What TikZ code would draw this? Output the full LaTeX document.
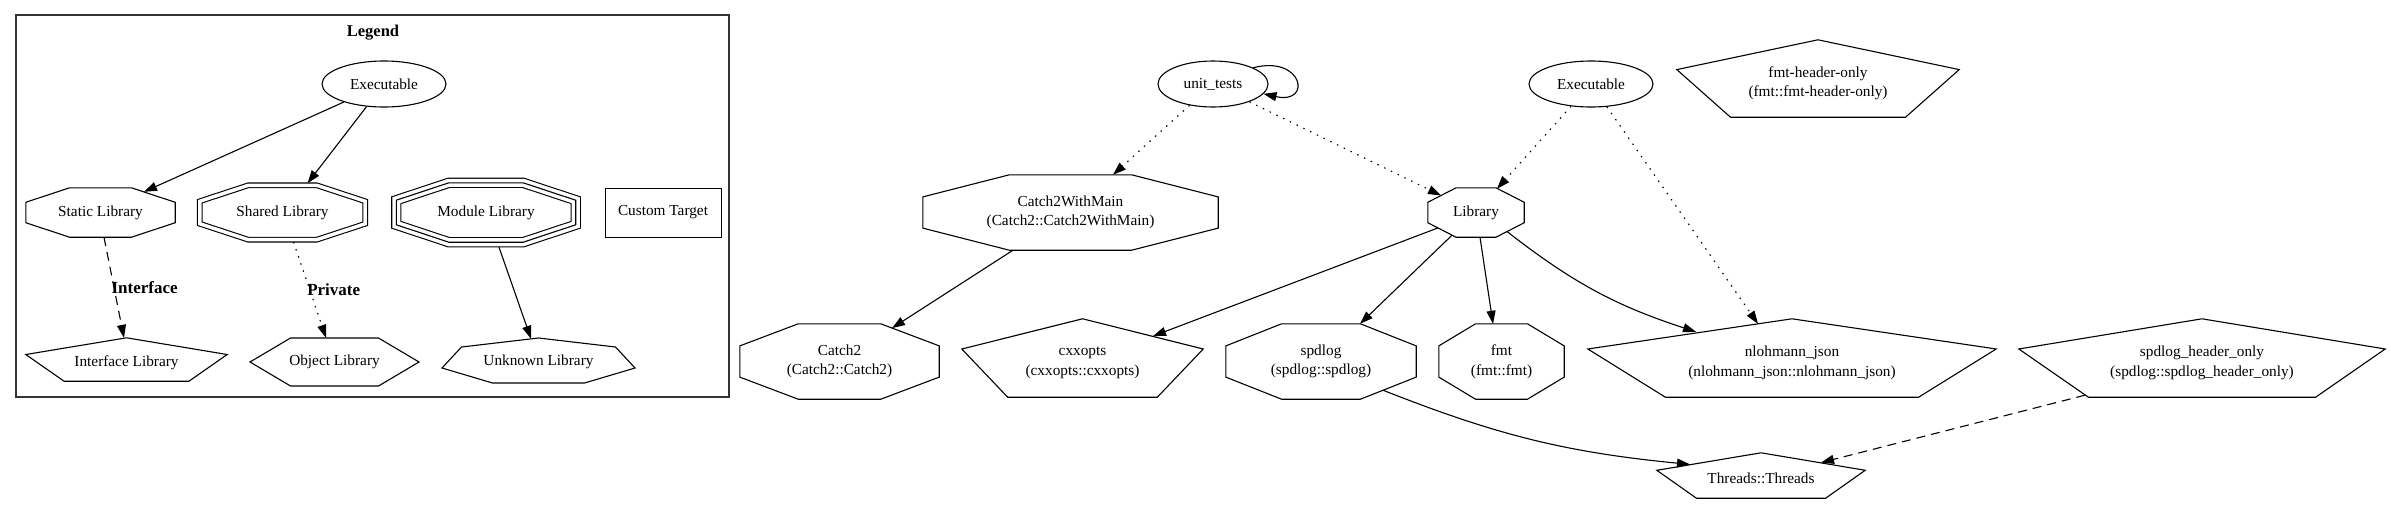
\documentclass[tikz,border=0pt]{standalone}
\usepackage{fontspec}
\setmainfont{Liberation Serif}
\usetikzlibrary{shapes.geometric,arrows.meta,calc}

% outlines are drawn round the (invisible) text nodes
\newcommand{\octagonline}[2][]{%
  \draw[line width=1.1pt,#1] ($(#2.north west)!0.293!(#2.north east)$) -- ($(#2.north east)!0.293!(#2.north west)$)
    -- ($(#2.north east)!0.293!(#2.south east)$) -- ($(#2.south east)!0.293!(#2.north east)$)
    -- ($(#2.south east)!0.293!(#2.south west)$) -- ($(#2.south west)!0.293!(#2.south east)$)
    -- ($(#2.south west)!0.293!(#2.north west)$) -- ($(#2.north west)!0.293!(#2.south west)$) -- cycle;}
% #1 = how far the outline sits above the text node
\newcommand{\pentagonline}[2][0]{%
  \draw[line width=1.1pt] ($(#2.north)+(0,-#1)$) -- ($(#2.north east)!0.385!(#2.south east)+(0,-#1)$)
    -- ($(#2.south east)!0.19!(#2.south west)+(0,-#1)$) -- ($(#2.south west)!0.19!(#2.south east)+(0,-#1)$)
    -- ($(#2.north west)!0.385!(#2.south west)+(0,-#1)$) -- cycle;}

\begin{document}
\begin{tikzpicture}[x=1pt,y=-1pt,
    every node/.style={font=\fontsize{15.3}{19.5}\selectfont, inner sep=0pt, align=center},
    ellnode/.style 2 args={ellipse, draw, line width=1.1pt, minimum width=#1pt, minimum height=#2pt},
    tgt/.style 2 args={minimum width=#1pt, minimum height=#2pt},
    dep/.style={line width=1.1pt, -{Triangle[length=13pt,width=9pt]}},
    dotdep/.style={dep, dash pattern=on 1.5pt off 6pt},
    dashdep/.style={dep, dash pattern=on 9pt off 6pt},
    lbl/.style={font=\fontsize{17}{20}\selectfont\bfseries, anchor=west, xshift=-3pt}]
  \fill[white] (0,0) rectangle (2391,507);
  \useasboundingbox (0,0) rectangle (2391,507);

  % legend
  \draw[line width=1.3pt, black!80] (16,15) rectangle (729,397);
  \node[font=\fontsize{16.5}{20}\selectfont\bfseries] (legend) at (373,33) {Legend};
  \node[ellnode={124}{46}] (legexe) at (384,84) {Executable};
  \node[tgt={149}{49}] (static) at (100.5,212.5) {Static Library};
  \node[tgt={165}{54}] (shared) at (282.5,212.5) {Shared Library};
  \node[tgt={179}{59}] (modlib) at (486,212.5) {Module Library};
  \node[tgt={116}{49}, draw, line width=1pt] (custom) at (663,212.5) {Custom Target};
  \node[tgt={201}{43}] (iface) at (126.5,363) {Interface Library};
  \node[tgt={169}{48}] (objlib) at (334.5,362) {Object Library};
  \node[tgt={193}{45}] (unknown) at (538.5,361.5) {Unknown Library};

  \octagonline{static}
  \octagonline[double, double distance=3.5pt]{shared}
  \octagonline[line width=10.3pt]{modlib}
  \octagonline[white, line width=8.1pt]{modlib}
  \octagonline{modlib}
  \pentagonline[3.5]{iface}
  \draw[line width=1.1pt, shift={(objlib.center)}] (-44,-24) -- (44,-24) -- (84.5,0) -- (44,24)
    -- (-44,24) -- (-84.5,0) -- cycle;
  \draw[line width=1.1pt, shift={(unknown.center)}] (0,-23.5) -- (77,-14.5) -- (96.5,6.5) -- (46,21.5)
    -- (-46,21.5) -- (-96.5,6.5) -- (-77,-14.5) -- cycle;

  \draw[dep] (legexe) -- ([xshift=43.5pt,yshift=-4pt]static.north);
  \draw[dep] (legexe) -- ([xshift=25pt,yshift=2pt]shared.north);
  \draw[dashdep] ([xshift=3.5pt]static.south) -- node[lbl] (lbliface) {Interface} ([xshift=-2.5pt,yshift=3.5pt]iface.north);
  \draw[dotdep] ([xshift=11pt,yshift=-2.3pt]shared.south) -- node[lbl] (lblpriv) {Private} ([xshift=-8.5pt]objlib.north);
  \draw[dep] ([xshift=13pt,yshift=-5pt]modlib.south) -- ([xshift=-7.5pt]unknown.north);

  % targets
  \node[ellnode={110}{46}] (ut) at (1213,84) {unit\_tests};
  \node[ellnode={124}{46}] (exe) at (1591,84) {Executable};
  \node[tgt={282}{77}] (fmtho) at (1818,83.5) {fmt-header-only\\(fmt::fmt-header-only)};
  \node[tgt={295}{75}] (c2wm) at (1070.5,212.5) {Catch2WithMain\\(Catch2::Catch2WithMain)};
  \node[tgt={96}{49}] (lib) at (1476,212.5) {Library};
  \node[tgt={199}{75}] (catch2) at (839.5,361.5) {Catch2\\(Catch2::Catch2)};
  \node[tgt={241}{78}] (cxx) at (1082.5,363) {cxxopts\\(cxxopts::cxxopts)};
  \node[tgt={190}{75}] (spdlog) at (1321,361.5) {spdlog\\(spdlog::spdlog)};
  \node[tgt={125}{75}] (fmt) at (1501.5,361.5) {fmt\\(fmt::fmt)};
  \node[tgt={408}{78}] (nl) at (1792,363) {nlohmann\_json\\(nlohmann\_json::nlohmann\_json)};
  \node[tgt={366}{78}] (sho) at (2202,363) {spdlog\_header\_only\\(spdlog::spdlog\_header\_only)};
  \node[tgt={208}{45}] (thr) at (1761,478) {Threads::Threads};

  \pentagonline[5]{fmtho}
  \octagonline{c2wm}
  \octagonline{lib}
  \octagonline{catch2}
  \pentagonline[5]{cxx}
  \octagonline{spdlog}
  \octagonline{fmt}
  \pentagonline[5]{nl}
  \pentagonline[5]{sho}
  \pentagonline[2.5]{thr}

  % dependencies
  \draw[dotdep] (ut) -- ([xshift=42.5pt]c2wm.north);
  \draw[dotdep] (ut) -- ([xshift=-35pt,yshift=-7.7pt]lib.north);
  \draw[dep] (ut.22) .. controls +(50,-13) and +(49,11) .. (ut.-11);
  \draw[dotdep] (exe) -- ([xshift=21pt,yshift=-1pt]lib.north);
  \draw[dotdep] (exe) -- ([xshift=-34pt]nl.north);
  \draw[dep] ([xshift=-57.5pt]c2wm.south) -- ([xshift=52.5pt,yshift=-4.3pt]catch2.north);
  \draw[dep] ([xshift=-38pt,yshift=9.3pt]lib.south) -- ([xshift=70.5pt,yshift=-12.3pt]cxx.north);
  \draw[dep] ([xshift=-24pt,yshift=2pt]lib.south) -- ([xshift=39pt]spdlog.north);
  \draw[dep] ([xshift=4pt]lib.south) -- ([xshift=-8.5pt]fmt.north);
  \draw[dep] ([xshift=31pt,yshift=5.7pt]lib.south) to[bend right=10] ([xshift=-96pt,yshift=-8pt]nl.north);
  \draw[dep] ([xshift=62pt,yshift=9pt]spdlog.south) to[bend right=8] ([xshift=-71pt,yshift=-9.1pt]thr.north);
  \draw[dashdep] ([xshift=-117pt,yshift=7pt]sho.south) -- ([xshift=60pt,yshift=-7.3pt]thr.north);
\end{tikzpicture}
\end{document}
